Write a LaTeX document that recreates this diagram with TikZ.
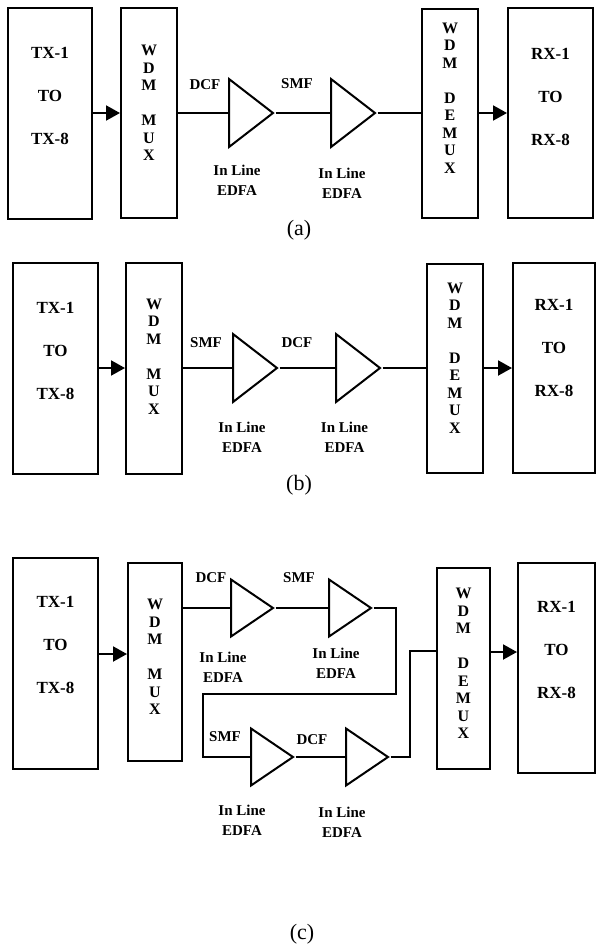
\documentclass[tikz,border=0pt]{standalone}
\usepackage{fontspec}
\setmainfont{Liberation Serif}
\usetikzlibrary{arrows.meta,shapes.geometric}

\tikzset{
  box/.style={draw, line width=2pt, inner sep=0pt},
  amp/.style={draw, line width=2pt, isosceles triangle, isosceles triangle stretches,
    inner sep=0pt, anchor=west, minimum width=68pt, minimum height=44pt},
  ampsmall/.style={amp, minimum width=57pt, minimum height=42pt},
  sig/.style={line width=2pt},
  arr/.style={line width=2pt, -{Triangle[length=14pt,width=15pt]}},
  endtxt/.style={font=\fontsize{17}{43}\selectfont\bfseries, align=center},
  mtxt/.style={font=\fontsize{16}{17.5}\selectfont\bfseries, align=center},
  lbl/.style={font=\fontsize{15}{20}\selectfont\bfseries, align=center},
  captxt/.style={font=\fontsize{22}{26}\selectfont}
}

\begin{document}
\begin{tikzpicture}[x=1pt,y=-1pt]
    \useasboundingbox (0,0) rectangle (596,951);

    % (a) DCF then SMF
    \node[box, minimum width=84pt, minimum height=211pt] (txa) at (50,113) {};
    \node[endtxt] at ([yshift=17pt]txa.center) {TX-1\\TO\\TX-8};
    \node[box, minimum width=56pt, minimum height=210pt] (muxa) at (149,113) {};
    \node[mtxt] at ([yshift=10pt]muxa.center) {W\\D\\M\\~\\M\\U\\X};
    \node[amp] (a1a) at (228,113) {};
    \node[amp] (a2a) at (330,113) {};
    \node[box, minimum width=56pt, minimum height=209pt] (demuxa) at (450,113) {};
    \node[mtxt] at ([yshift=15pt]demuxa.center) {W\\D\\M\\~\\D\\E\\M\\U\\X};
    \node[box, minimum width=85pt, minimum height=210pt] (rxa) at (550.5,113) {};
    \node[endtxt] at ([yshift=16.5pt]rxa.center) {RX-1\\TO\\RX-8};

    \draw[arr] (txa.east) -- (muxa.west);
    \draw[sig] (muxa.east) -- (a1a.west);
    \draw[sig] (a1a.east) -- (a2a.west);
    \draw[sig] (a2a.east) -- (demuxa.west);
    \draw[arr] (demuxa.east) -- (rxa.west);

    \node[lbl] at (205,85) {DCF};
    \node[lbl] at (297,84) {SMF};
    \node[lbl] at (237,180) {In Line\\EDFA};
    \node[lbl] at (342,183) {In Line\\EDFA};
    \node[captxt] at (299,230) {(a)};

    % (b) SMF then DCF
    \node[box, minimum width=85pt, minimum height=211pt] (txb) at (55.5,368) {};
    \node[endtxt] at ([yshift=17.5pt]txb.center) {TX-1\\TO\\TX-8};
    \node[box, minimum width=56pt, minimum height=211pt] (muxb) at (154,368) {};
    \node[mtxt] at ([yshift=11.5pt]muxb.center) {W\\D\\M\\~\\M\\U\\X};
    \node[amp] (a1b) at (232,368) {};
    \node[amp] (a2b) at (335,368) {};
    \node[box, minimum width=56pt, minimum height=209pt] (demuxb) at (455,368) {};
    \node[mtxt] at ([yshift=10pt]demuxb.center) {W\\D\\M\\~\\D\\E\\M\\U\\X};
    \node[box, minimum width=82pt, minimum height=210pt] (rxb) at (554,368) {};
    \node[endtxt] at ([yshift=20pt]rxb.center) {RX-1\\TO\\RX-8};

    \draw[arr] (txb.east) -- (muxb.west);
    \draw[sig] (muxb.east) -- (a1b.west);
    \draw[sig] (a1b.east) -- (a2b.west);
    \draw[sig] (a2b.east) -- (demuxb.west);
    \draw[arr] (demuxb.east) -- (rxb.west);

    \node[lbl] at (206,343) {SMF};
    \node[lbl] at (297,343) {DCF};
    \node[lbl] at (242,437) {In Line\\EDFA};
    \node[lbl] at (344.5,437.5) {In Line\\EDFA};
    \node[captxt] at (299,485) {(b)};

    % (c) two spans folded back
    \node[box, minimum width=85pt, minimum height=211pt] (txc) at (55.5,663.5) {};
    \node[endtxt] at ([yshift=18.5pt]txc.center) {TX-1\\TO\\TX-8};
    \node[box, minimum width=54pt, minimum height=198pt] (muxc) at (155,662) {};
    \node[mtxt] at ([yshift=5pt]muxc.center) {W\\D\\M\\~\\M\\U\\X};
    \node[ampsmall] (a1c) at (230,608) {};
    \node[ampsmall] (a2c) at (328,608) {};
    \node[ampsmall] (a3c) at (250,757) {};
    \node[ampsmall] (a4c) at (345,757) {};
    \node[box, minimum width=53pt, minimum height=201pt] (demuxc) at (463.5,668.5) {};
    \node[mtxt] at ([yshift=5pt]demuxc.center) {W\\D\\M\\~\\D\\E\\M\\U\\X};
    \node[box, minimum width=77pt, minimum height=210pt] (rxc) at (556.5,668) {};
    \node[endtxt] at ([yshift=18pt]rxc.center) {RX-1\\TO\\RX-8};

    \coordinate (turnc1) at (396,694);
    \coordinate (turnc2) at (203,694);
    \coordinate (turnc3) at (410,651);

    \draw[arr] ([yshift=9.5pt]txc.east) -- ([yshift=9.5pt]txc.east -| muxc.west);
    \draw[sig] (a1c.west -| muxc.east) -- (a1c.west);
    \draw[sig] (a1c.east) -- (a2c.west);
    \draw[sig] (a2c.east) -| (turnc1) -- (turnc2) |- (a3c.west);
    \draw[sig] (a3c.east) -- (a4c.west);
    \draw[sig] (a4c.east) -| (turnc3) -- (turnc3 -| demuxc.west);
    \draw[arr] ([yshift=16.5pt]demuxc.east) -- ([yshift=16.5pt]demuxc.east -| rxc.west);

    \node[lbl] at (211,578) {DCF};
    \node[lbl] at (299,578) {SMF};
    \node[lbl] at (225,737) {SMF};
    \node[lbl] at (312,740) {DCF};
    \node[lbl] at (223,667) {In Line\\EDFA};
    \node[lbl] at (336,663.5) {In Line\\EDFA};
    \node[lbl] at (242,820) {In Line\\EDFA};
    \node[lbl] at (342,822) {In Line\\EDFA};
    \node[captxt] at (302,934) {(c)};

\end{tikzpicture}
\end{document}
